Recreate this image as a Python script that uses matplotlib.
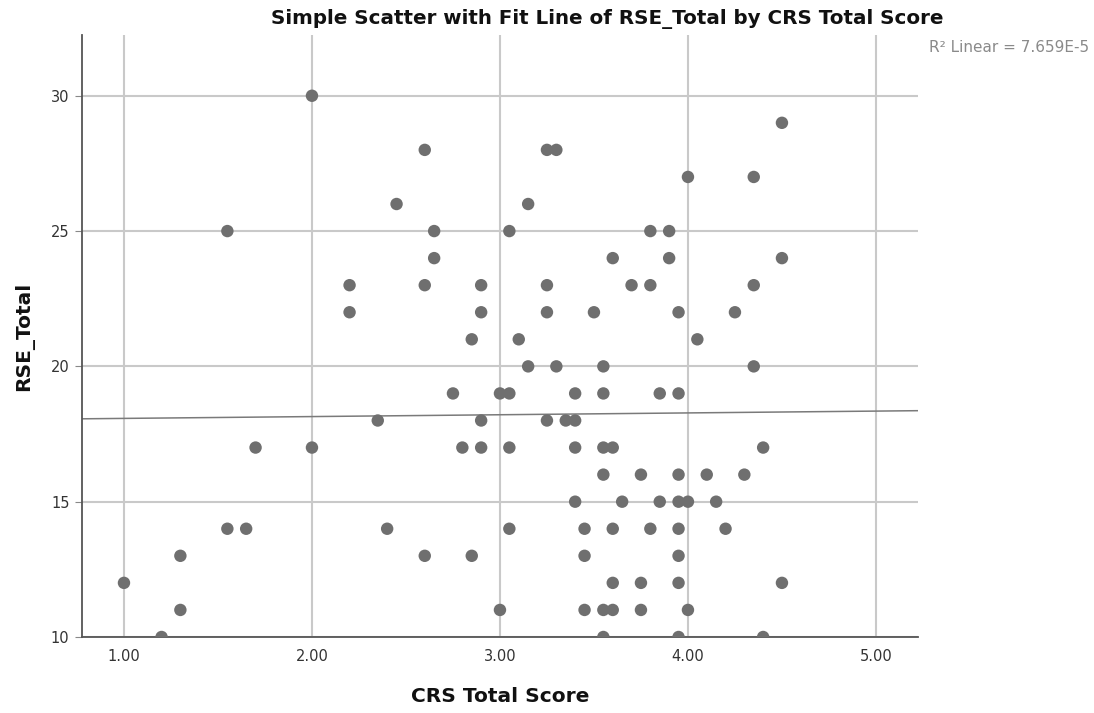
import numpy as np
import matplotlib
matplotlib.use("Agg")
import matplotlib.pyplot as plt

# CRS Total Score (x) and RSE_Total (y)
crs_score = [
    2.00,
    4.50,
    2.60, 3.25, 3.30,
    4.00, 4.35,
    2.45, 3.15,
    1.55, 2.65, 3.05, 3.80, 3.90,
    2.65, 3.60, 3.90, 4.50,
    2.20, 2.60, 2.90, 3.25, 3.70, 3.80, 4.35,
    2.20, 2.90, 3.25, 3.50, 3.95, 4.25,
    2.85, 3.10, 4.05,
    3.15, 3.30, 3.55, 4.35,
    2.75, 3.00, 3.05, 3.40, 3.55, 3.85, 3.95,
    2.35, 2.90, 3.25, 3.35, 3.40,
    1.70, 2.00, 2.80, 2.90, 3.05, 3.40, 3.55, 3.60, 4.40,
    3.55, 3.75, 3.95, 4.10, 4.30,
    3.40, 3.65, 3.85, 3.95, 4.00, 4.15,
    1.55, 1.65, 2.40, 3.05, 3.45, 3.60, 3.80, 3.95, 4.20,
    1.30, 2.60, 2.85, 3.45, 3.95,
    1.00, 3.60, 3.75, 3.95, 4.50,
    1.30, 3.00, 3.45, 3.55, 3.60, 3.75, 4.00,
    1.20, 3.55, 3.95, 4.40,
]
rse_total = (
    [30] * 1 + [29] * 1 + [28] * 3 + [27] * 2 + [26] * 2 + [25] * 5
    + [24] * 4 + [23] * 7 + [22] * 6 + [21] * 3 + [20] * 4 + [19] * 7
    + [18] * 5 + [17] * 9 + [16] * 5 + [15] * 6 + [14] * 9 + [13] * 5
    + [12] * 5 + [11] * 7 + [10] * 4
)

# linear fit as shown (the full data set runs below the visible y range)
fit_intercept = 18.01
fit_slope = 0.0675
r2_text = "R\u00b2 Linear = 7.659E-5"

x_ticks = [1.0, 2.0, 3.0, 4.0, 5.0]
y_ticks = [10, 15, 20, 25, 30]

fig = plt.figure(figsize=(10.94, 7.13), dpi=100)
ax = fig.add_axes([0.075, 0.1066, 0.764, 0.8445])

grid_col = "#c9c9c9"
for xt in x_ticks:
    ax.axvline(xt, color=grid_col, lw=1.5, zorder=0)
for yt in y_ticks:
    ax.axhline(yt, color=grid_col, lw=1.5, zorder=0)

ax.scatter(crs_score, rse_total, s=80, color="#6f6f6f", edgecolors="none",
           zorder=3, clip_on=True)

xlim = (0.777, 5.223)
xs = np.array(xlim)
ax.plot(xs, fit_intercept + fit_slope * xs, color="#7a7a7a", lw=1.1, zorder=2)

ax.set_xlim(*xlim)
ax.set_ylim(10, 32.25)
ax.set_xticks(x_ticks)
ax.set_xticklabels([f"{v:.2f}" for v in x_ticks])
ax.set_yticks(y_ticks)

for side in ["top", "right"]:
    ax.spines[side].set_visible(False)
for side in ["left", "bottom"]:
    ax.spines[side].set_color("#555555")
    ax.spines[side].set_linewidth(1.3)

ax.tick_params(axis="x", length=0, pad=9, labelsize=10.5, labelcolor="#333333")
ax.tick_params(axis="y", length=5, color="#888888", pad=4, labelsize=10.5,
               labelcolor="#333333")

ax.set_xlabel("CRS Total Score", fontsize=14.5, fontweight="bold", labelpad=16,
              color="#111111")
ax.set_ylabel("RSE_Total", fontsize=14.5, fontweight="bold", labelpad=12,
              color="#111111")

fig.text(0.555, 0.974, "Simple Scatter with Fit Line of RSE_Total by CRS Total Score",
         ha="center", va="center", fontsize=14.3, fontweight="bold", color="#111111")
fig.text(0.996, 0.934, r2_text, ha="right", va="center", fontsize=11,
         color="#8a8a8a")

fig.savefig("out.png", dpi=100)
